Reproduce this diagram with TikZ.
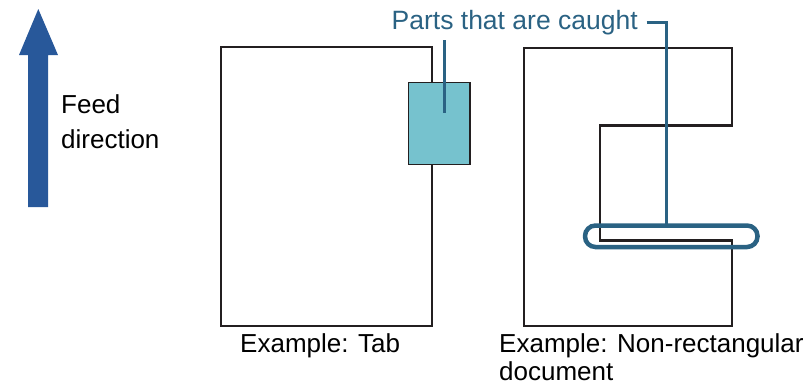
\documentclass[tikz,border=0pt]{standalone}
\usepackage{fontspec}
\setmainfont{Liberation Sans}
\definecolor{arrowblue}{HTML}{28589A}
\definecolor{callout}{HTML}{2A6283}
\definecolor{tabfill}{HTML}{76C2CE}
\definecolor{docline}{HTML}{231F20}
\tikzset{
  doc/.style={draw=docline, line width=2.2pt, fill=white},
  tabpart/.style={draw=docline, line width=1.5pt, fill=tabfill},
  leader/.style={draw=callout, line width=3pt},
  catch/.style={draw=callout, line width=4.5pt, rounded corners=10.5pt},
  lbl/.style={inner sep=0pt, font=\fontsize{26}{30}\selectfont, text=black},
}
\begin{document}
\begin{tikzpicture}[x=1pt,y=-1pt]
\useasboundingbox (0,0) rectangle (811,384);
% feed direction arrow
\fill[arrowblue] (28,207) -- (48,207) -- (48,55) -- (58,55) -- (38.3,9) -- (19,55) -- (28,55) -- cycle;
\node[lbl, anchor=base west] (feed1) at (61,113) {Feed};
\node[lbl, anchor=base west] (feed2) at (61,148) {direction};
% left document with tab
\draw[doc] (221,47) rectangle (432,326);
\node[tabpart, minimum width=61.5pt, minimum height=82pt, inner sep=0pt, anchor=north west] (tab) at (407.8,81.8) {};
% right non-rectangular document
\draw[doc] (524,48) -- (732,48) -- (732,125.5) -- (600,125.5) -- (600,240.5) -- (732,240.5) -- (732,326) -- (524,326) -- cycle;
\draw[catch] (585,225.5) rectangle (757.5,247);
\coordinate (catchtop) at (666,225.5);
% callout
\node[lbl, text=callout, font=\fontsize{26.5}{30}\selectfont, anchor=base west] (parts) at (391.5,29.3) {Parts that are caught};
\coordinate (tabend) at (444.3,113);
\coordinate (tabstart) at (444.3,40);
\draw[leader] (tabstart) -- (tabend);
\coordinate (bend) at (666,22);
\draw[leader] (646.5,22) -- (bend) -- (catchtop);
% captions
\node[lbl, anchor=base west] (cap1) at (240,352) {Example: Tab};
\node[lbl, anchor=base west] (cap2) at (499,352) {Example: Non-rectangular};
\node[lbl, anchor=base west] (cap3) at (499,380.5) {document};
\end{tikzpicture}
\end{document}
